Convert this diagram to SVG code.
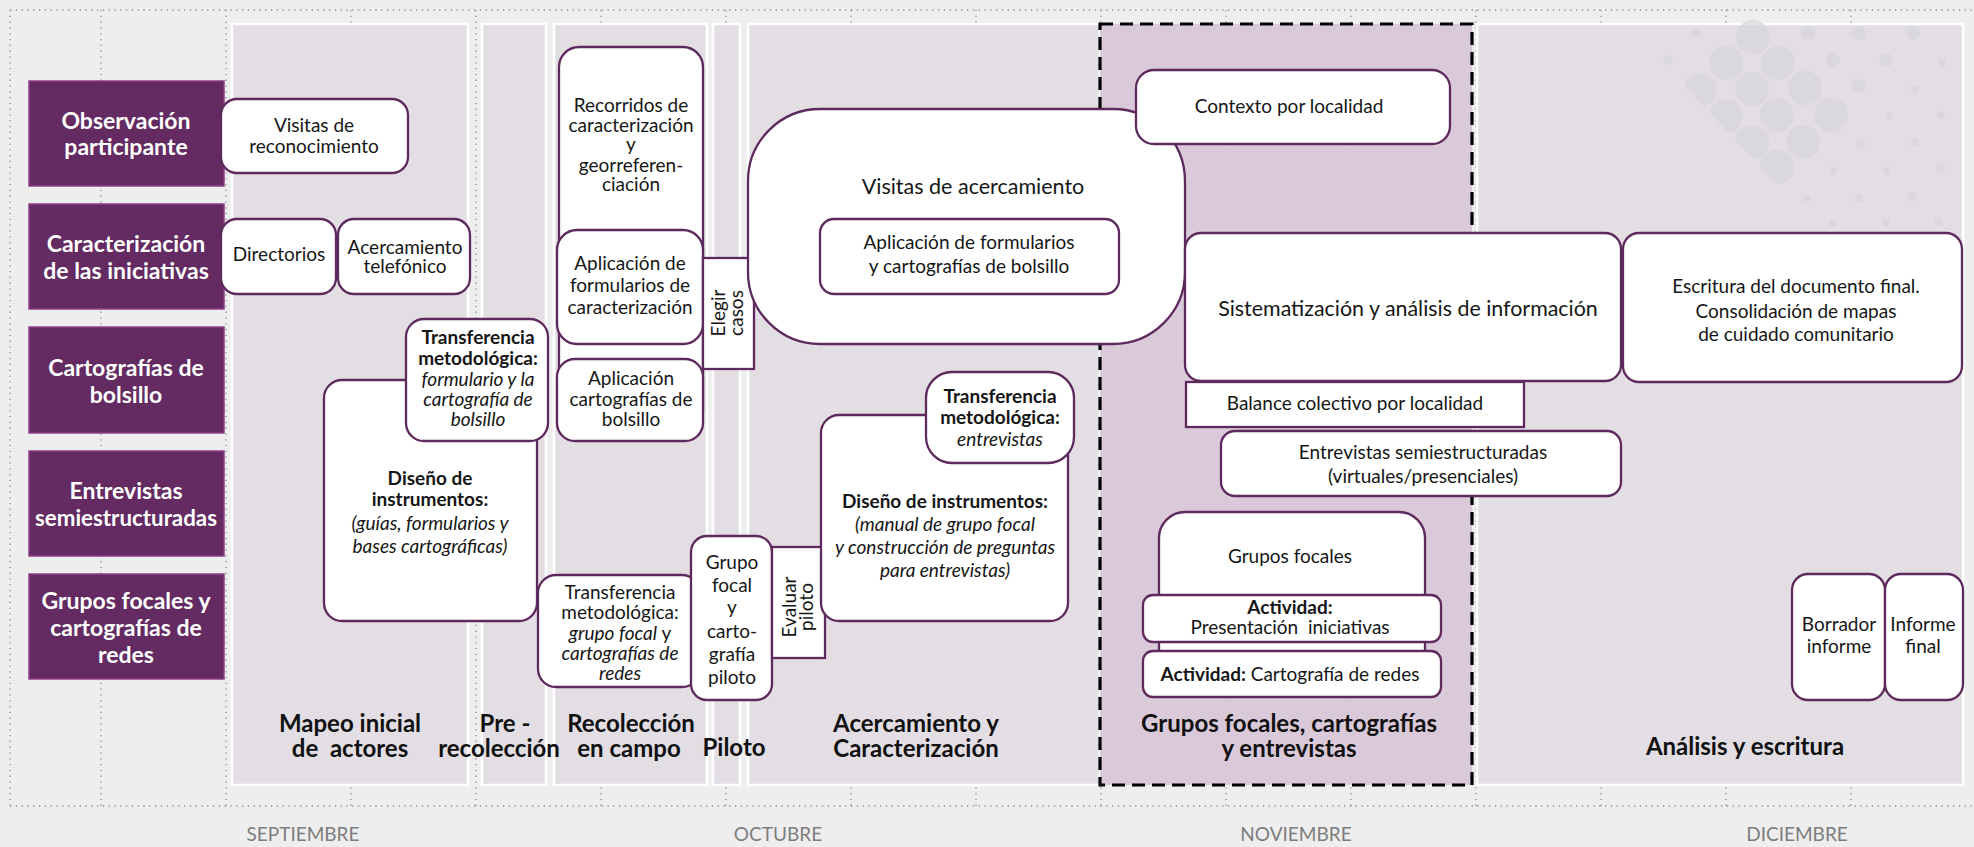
<svg xmlns="http://www.w3.org/2000/svg" width="1974" height="847" viewBox="0 0 1974 847">
<defs>
<style>
.bg{fill:#eeeeee}
.grid{stroke:#8f8f8f;stroke-width:1.3;stroke-dasharray:1.3 4.5;fill:none}
.panel{fill:#e2dee4;stroke:#ffffff;stroke-width:2.5}
.gpanel{fill:#d8c6d7;fill-opacity:0.92;stroke:#000;stroke-width:3.2;stroke-dasharray:13 7}
.cat{fill:#632b62;stroke:#8e3e8b;stroke-width:1.5}
.box{fill:#ffffff;stroke:#5e2a5d;stroke-width:2.3}
.t{font-family:Lato,"Noto Sans","Liberation Sans",sans-serif;font-size:19px;fill:#161616;text-anchor:middle}
.b{font-weight:bold}
.i{font-style:italic}
.tc{font-family:Lato,"Noto Sans","Liberation Sans",sans-serif;font-size:23px;font-weight:bold;fill:#ffffff;text-anchor:middle}
.ph{font-family:Lato,"Noto Sans","Liberation Sans",sans-serif;font-size:24px;font-weight:bold;fill:#111111;text-anchor:middle}
.mo{font-family:Lato,"Noto Sans","Liberation Sans",sans-serif;font-size:19px;fill:#7d7d7d;text-anchor:middle}
.wm{fill:#d9d4dc;opacity:0.7}
</style>
<clipPath id="tri"><polygon points="1660,40 1760,40 1860,60 1860,200 1790,200 1680,80"/></clipPath>
</defs>
<rect class="bg" x="0" y="0" width="1974" height="847"/>

<g id="grid">
<line class="grid" x1="10" y1="10" x2="1974" y2="10"/>
<line class="grid" x1="10" y1="806" x2="1974" y2="806"/>
<line class="grid" x1="10" y1="10" x2="10" y2="806"/>
<line class="grid" x1="101" y1="10" x2="101" y2="806"/>
<line class="grid" x1="226" y1="10" x2="226" y2="806"/>
<line class="grid" x1="351" y1="10" x2="351" y2="806"/>
<line class="grid" x1="476" y1="10" x2="476" y2="806"/>
<line class="grid" x1="601" y1="10" x2="601" y2="806"/>
<line class="grid" x1="726" y1="10" x2="726" y2="806"/>
<line class="grid" x1="851" y1="10" x2="851" y2="806"/>
<line class="grid" x1="976" y1="10" x2="976" y2="806"/>
<line class="grid" x1="1101" y1="10" x2="1101" y2="806"/>
<line class="grid" x1="1226" y1="10" x2="1226" y2="806"/>
<line class="grid" x1="1351" y1="10" x2="1351" y2="806"/>
<line class="grid" x1="1476" y1="10" x2="1476" y2="806"/>
<line class="grid" x1="1601" y1="10" x2="1601" y2="806"/>
<line class="grid" x1="1726" y1="10" x2="1726" y2="806"/>
<line class="grid" x1="1851" y1="10" x2="1851" y2="806"/>
</g>

<g id="panels">
<rect class="panel" x="232" y="24" width="236" height="761"/>
<rect class="panel" x="482" y="24" width="64" height="761"/>
<rect class="panel" x="554" y="24" width="153" height="761"/>
<rect class="panel" x="713" y="24" width="27" height="761"/>
<rect class="panel" x="748" y="24" width="352" height="761"/>
<rect class="panel" x="1477" y="24" width="486" height="761"/>
<rect class="gpanel" x="1100" y="24" width="372" height="761"/>
</g>

<g id="watermark">
<g clip-path="url(#tri)">
<circle class="wm" cx="1700" cy="90" r="17"/>
<circle class="wm" cx="1726" cy="116" r="17"/>
<circle class="wm" cx="1752" cy="142" r="17"/>
<circle class="wm" cx="1777" cy="167" r="17"/>
</g>
<circle class="wm" cx="1753" cy="37" r="17"/>
<circle class="wm" cx="1726" cy="63" r="17"/>
<circle class="wm" cx="1778" cy="63" r="17"/>
<circle class="wm" cx="1752" cy="89" r="17"/>
<circle class="wm" cx="1805" cy="88" r="17"/>
<circle class="wm" cx="1777" cy="115" r="17"/>
<circle class="wm" cx="1831" cy="115" r="17"/>
<circle class="wm" cx="1803" cy="142" r="17"/>
<circle class="wm" cx="1696" cy="33" r="5"/>
<circle class="wm" cx="1668" cy="60" r="5"/>
<circle class="wm" cx="1808" cy="33" r="7"/>
<circle class="wm" cx="1859" cy="33" r="7"/>
<circle class="wm" cx="1913" cy="33" r="7"/>
<circle class="wm" cx="1833" cy="60" r="7"/>
<circle class="wm" cx="1886" cy="60" r="7"/>
<circle class="wm" cx="1942" cy="63" r="4"/>
<circle class="wm" cx="1859" cy="86" r="7"/>
<circle class="wm" cx="1915" cy="89" r="4"/>
<circle class="wm" cx="1889" cy="116" r="4"/>
<circle class="wm" cx="1941" cy="115" r="4"/>
<circle class="wm" cx="1861" cy="144" r="4"/>
<circle class="wm" cx="1915" cy="142" r="4"/>
<circle class="wm" cx="1941" cy="168" r="4"/>
<circle class="wm" cx="1833" cy="171" r="4"/>
<circle class="wm" cx="1887" cy="171" r="4"/>
<circle class="wm" cx="1807" cy="198" r="4"/>
<circle class="wm" cx="1859" cy="198" r="4"/>
<circle class="wm" cx="1912" cy="197" r="4"/>
<circle class="wm" cx="1833" cy="223" r="4"/>
<circle class="wm" cx="1886" cy="223" r="4"/>
<circle class="wm" cx="1938" cy="222" r="4"/>
</g>

<g id="phase-labels">
<text class="ph"><tspan x="350" y="732">Mapeo inicial</tspan><tspan x="350" y="757">de&#160; actores</tspan></text>
<text class="ph"><tspan x="505" y="732">Pre -</tspan><tspan x="499" y="757">recolección</tspan></text>
<text class="ph"><tspan x="631" y="732">Recolección</tspan><tspan x="629" y="757">en campo</tspan></text>
<text class="ph" x="734" y="756">Piloto</text>
<text class="ph"><tspan x="916" y="732">Acercamiento y</tspan><tspan x="916" y="757">Caracterización</tspan></text>
<text class="ph"><tspan x="1289" y="732">Grupos focales, cartografías</tspan><tspan x="1289" y="757">y entrevistas</tspan></text>
<text class="ph" x="1745" y="755">Análisis y escritura</text>
</g>

<g id="months">
<text class="mo" x="303" y="841">SEPTIEMBRE</text>
<text class="mo" x="778" y="841">OCTUBRE</text>
<text class="mo" x="1296" y="841">NOVIEMBRE</text>
<text class="mo" x="1797" y="841">DICIEMBRE</text>
</g>

<g id="categories">
<g id="cat-observacion"><rect class="cat" x="29" y="81" width="195" height="105"/><text class="tc"><tspan x="126" y="129">Observación</tspan><tspan x="126" y="155">participante</tspan></text></g>
<g id="cat-caracterizacion"><rect class="cat" x="29" y="204" width="195" height="105"/><text class="tc"><tspan x="126" y="252">Caracterización</tspan><tspan x="126" y="279">de las iniciativas</tspan></text></g>
<g id="cat-cartografias"><rect class="cat" x="29" y="327" width="195" height="106"/><text class="tc"><tspan x="126" y="376">Cartografías de</tspan><tspan x="126" y="403">bolsillo</tspan></text></g>
<g id="cat-entrevistas"><rect class="cat" x="29" y="451" width="195" height="105"/><text class="tc"><tspan x="126" y="499">Entrevistas</tspan><tspan x="126" y="526" textLength="182" lengthAdjust="spacingAndGlyphs">semiestructuradas</tspan></text></g>
<g id="cat-grupos"><rect class="cat" x="29" y="574" width="195" height="105"/><text class="tc"><tspan x="126" y="609">Grupos focales y</tspan><tspan x="126" y="636">cartografías de</tspan><tspan x="126" y="663">redes</tspan></text></g>
</g>

<g id="connectors"></g>

<g id="n-visitas-reconocimiento"><rect class="box" x="221" y="99" width="187" height="74" rx="16"/><text class="t"><tspan x="314" y="132">Visitas de</tspan><tspan x="314" y="153">reconocimiento</tspan></text></g>
<g id="n-directorios"><rect class="box" x="221" y="219" width="115" height="75" rx="16"/><text class="t" x="279" y="261">Directorios</text></g>
<g id="n-acercamiento-tel"><rect class="box" x="338" y="219" width="132" height="75" rx="16"/><text class="t"><tspan x="405" y="254">Acercamiento</tspan><tspan x="405" y="273">telefónico</tspan></text></g>

<g id="n-diseno-1"><rect class="box" x="324" y="380" width="213" height="241" rx="18"/><text class="t"><tspan class="b" x="430" y="485">Diseño de</tspan><tspan class="b" x="430" y="506">instrumentos:</tspan><tspan class="i" x="430" y="530">(guías, formularios y</tspan><tspan class="i" x="430" y="553">bases cartográficas)</tspan></text></g>
<g id="n-transferencia-bolsillo"><rect class="box" x="406" y="319" width="142" height="122" rx="18"/><text class="t"><tspan class="b" x="478" y="344">Transferencia</tspan><tspan class="b" x="478" y="365">metodológica:</tspan><tspan class="i" x="478" y="386">formulario y la</tspan><tspan class="i" x="478" y="406">cartografía de</tspan><tspan class="i" x="478" y="426">bolsillo</tspan></text></g>

<g id="n-recorridos"><rect class="box" x="559" y="47" width="144" height="383" rx="20"/><text class="t"><tspan x="631" y="112">Recorridos de</tspan><tspan x="631" y="132">caracterización</tspan><tspan x="631" y="151">y</tspan><tspan x="631" y="172">georreferen-</tspan><tspan x="631" y="191">ciación</tspan></text></g>
<g id="n-aplicacion-form"><rect class="box" x="557" y="230" width="146" height="114" rx="20"/><text class="t"><tspan x="630" y="270">Aplicación de</tspan><tspan x="630" y="292">formularios de</tspan><tspan x="630" y="314">caracterización</tspan></text></g>
<g id="n-aplicacion-cart"><rect class="box" x="557" y="359" width="146" height="82" rx="18"/><text class="t"><tspan x="631" y="385">Aplicación</tspan><tspan x="631" y="406">cartografías de</tspan><tspan x="631" y="426">bolsillo</tspan></text></g>
<g id="n-transferencia-gf"><rect class="box" x="538" y="575" width="162" height="112" rx="18"/><text class="t"><tspan x="620" y="599">Transferencia</tspan><tspan x="620" y="619">metodológica:</tspan><tspan x="620" y="640"><tspan class="i">grupo focal</tspan> y</tspan><tspan class="i" x="620" y="660">cartografías de</tspan><tspan class="i" x="620" y="680">redes</tspan></text></g>

<g id="n-elegir"><rect class="box" x="703" y="258" width="51" height="111"/><text class="t" transform="translate(0,313) rotate(-90)"><tspan x="0" y="725">Elegir</tspan><tspan x="0" y="743">casos</tspan></text></g>

<g id="n-grupo-piloto"><rect class="box" x="691" y="536" width="81" height="164" rx="16"/><text class="t"><tspan x="732" y="569">Grupo</tspan><tspan x="732" y="592">focal</tspan><tspan x="732" y="614">y</tspan><tspan x="732" y="638">carto-</tspan><tspan x="732" y="661">grafía</tspan><tspan x="732" y="684">piloto</tspan></text></g>
<g id="n-evaluar"><rect class="box" x="772" y="547" width="53" height="111"/><text class="t" transform="translate(0,607) rotate(-90)"><tspan x="0" y="796">Evaluar</tspan><tspan x="0" y="813">piloto</tspan></text></g>

<g id="n-visitas-acercamiento"><rect class="box" x="748" y="109" width="437" height="235" rx="72"/><text class="t" style="font-size:21.5px" x="973" y="194">Visitas de acercamiento</text></g>
<g id="n-aplicacion-bolsillo"><rect class="box" x="820" y="219" width="299" height="75" rx="14"/><text class="t"><tspan x="969" y="249">Aplicación de formularios</tspan><tspan x="969" y="273">y cartografías de bolsillo</tspan></text></g>

<g id="n-diseno-2"><rect class="box" x="821" y="415" width="247" height="206" rx="18"/><text class="t"><tspan class="b" x="945" y="508">Diseño de instrumentos:</tspan><tspan class="i" x="945" y="531">(manual de grupo focal</tspan><tspan class="i" x="945" y="554">y construcción de preguntas</tspan><tspan class="i" x="945" y="577">para entrevistas)</tspan></text></g>
<g id="n-transferencia-ent"><rect class="box" x="926" y="372" width="148" height="91" rx="26"/><text class="t"><tspan class="b" x="1000" y="403">Transferencia</tspan><tspan class="b" x="1000" y="424">metodológica:</tspan><tspan class="i" x="1000" y="446">entrevistas</tspan></text></g>

<g id="n-contexto"><rect class="box" x="1136" y="70" width="314" height="74" rx="18"/><text class="t" x="1289" y="113">Contexto por localidad</text></g>
<g id="n-sistematizacion"><rect class="box" x="1185" y="233" width="436" height="148" rx="16"/><text class="t" style="font-size:21.4px" x="1408" y="316">Sistematización y análisis de información</text></g>
<g id="n-balance"><rect class="box" x="1186" y="382" width="338" height="45"/><text class="t" x="1355" y="410">Balance colectivo por localidad</text></g>
<g id="n-escritura"><rect class="box" x="1623" y="233" width="339" height="149" rx="16"/><text class="t"><tspan x="1796" y="293">Escritura del documento final.</tspan><tspan x="1796" y="318">Consolidación de mapas</tspan><tspan x="1796" y="341">de cuidado comunitario</tspan></text></g>
<g id="n-entrevistas-semi"><rect class="box" x="1221" y="431" width="400" height="65" rx="14"/><text class="t"><tspan x="1423" y="459">Entrevistas semiestructuradas</tspan><tspan x="1423" y="483">(virtuales/presenciales)</tspan></text></g>

<g id="n-grupos-focales"><rect class="box" x="1159" y="512" width="266" height="178" rx="26"/><text class="t" x="1290" y="563">Grupos focales</text></g>
<g id="n-act-presentacion"><rect class="box" x="1143" y="595" width="298" height="47" rx="10"/><text class="t"><tspan class="b" x="1290" y="614">Actividad:</tspan><tspan x="1290" y="634">Presentación&#160; iniciativas</tspan></text></g>
<g id="n-act-cartografia"><rect class="box" x="1143" y="651" width="298" height="46" rx="10"/><text class="t" x="1290" y="681"><tspan class="b">Actividad:</tspan> Cartografía de redes</text></g>

<g id="n-borrador"><rect class="box" x="1792" y="574" width="93" height="126" rx="16"/><text class="t"><tspan x="1839" y="631">Borrador</tspan><tspan x="1839" y="653">informe</tspan></text></g>
<g id="n-informe-final"><rect class="box" x="1885" y="574" width="78" height="126" rx="16"/><text class="t"><tspan x="1923" y="631">Informe</tspan><tspan x="1923" y="653">final</tspan></text></g>
</svg>
